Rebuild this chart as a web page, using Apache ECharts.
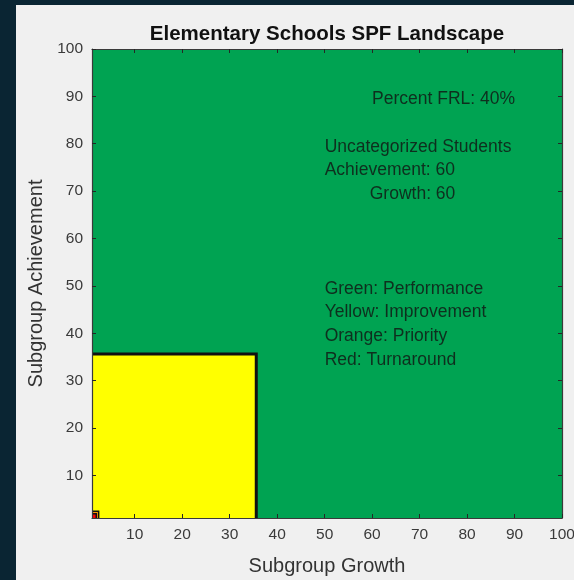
<!DOCTYPE html>
<html>
<head>
<meta charset="utf-8">
<script src="https://cdn.jsdelivr.net/npm/echarts@6/dist/echarts.min.js"></script>
<style>
  html, body { margin: 0; padding: 0; background: #0a2533; }
  #landscape { width: 574px; height: 580px; }
</style>
</head>
<body>
<div id="landscape"></div>
<script>
// region corners: each region fills from (1,1) up to [growth, achievement]
const regionNames = ["Performance", "Improvement", "Priority", "Turnaround"];
const regionGrowth = [100, 35.6, 2.4, 1.9];
const regionAchievement = [100, 35.6, 2.4, 1.9];
const regionColors = ["#00a352", "#ffff00", "#ff9900", "#ff0000"];

const tickValues = [10, 20, 30, 40, 50, 60, 70, 80, 90, 100];

// annotation text, anchored at its left-middle point
const noteText = [
  "Percent FRL: 40%",
  "Uncategorized Students",
  "Achievement: 60",
  "Growth: 60",
  "Green: Performance",
  "Yellow: Improvement",
  "Orange: Priority",
  "Red: Turnaround",
];
const noteX = [60, 50, 50, 59.5, 50, 50, 50, 50];
const noteY = [90, 80, 75, 70, 50, 45, 40, 35];

const FONT = "Liberation Sans, Arial, Helvetica, sans-serif";

const chart = echarts.init(document.getElementById("landscape"));

const axisBase = (extra) => {
  return Object.assign(
    {
      type: "value",
      min: 1,
      max: 100,
      zlevel: 1,
      z: 10,
      splitLine: { show: false },
      axisLine: { show: true, onZero: false, lineStyle: { color: "#3a3a3a", width: 1.2 } },
      axisTick: {
        show: true,
        inside: true,
        length: 4,
        customValues: tickValues,
        lineStyle: { color: "#262626" },
      },
      axisLabel: {
        show: true,
        customValues: tickValues,
        color: "#3a3a3a",
        fontFamily: FONT,
        fontSize: 15.5,
        margin: 9,
      },
    },
    extra
  );
};

const option = {
  backgroundColor: "#f0f0f0",
  animation: false,
  graphic: [
    { type: "rect", shape: { x: 0, y: 0, width: 16, height: 580 }, style: { fill: "#0a2533" }, silent: true },
    { type: "rect", shape: { x: 0, y: 0, width: 574, height: 5 }, style: { fill: "#0a2533" }, silent: true },
  ],
  title: {
    text: "Elementary Schools SPF Landscape",
    left: 322,
    textAlign: "center",
    top: 19,
    textStyle: { fontFamily: FONT, fontSize: 20.5, fontWeight: "bold", color: "#111" },
  },
  grid: { left: 92, right: 12, top: 49, bottom: 62, outerBoundsMode: "none" },
  xAxis: [
    axisBase({
      name: "Subgroup Growth",
      nameLocation: "middle",
      nameGap: 38,
      nameTextStyle: { fontFamily: FONT, fontSize: 20, color: "#333" },
    }),
    axisBase({ position: "top", axisLabel: { show: false } }),
  ],
  yAxis: [
    axisBase({
      name: "Subgroup Achievement",
      nameLocation: "middle",
      nameGap: 41,
      nameTextStyle: { fontFamily: FONT, fontSize: 20, color: "#333" },
    }),
    axisBase({ position: "right", axisLabel: { show: false } }),
  ],
  series: [
    {
      type: "custom",
      name: "regions",
      z: 2,
      data: regionNames.map((n, i) => [regionGrowth[i], regionAchievement[i], i]),
      renderItem: (params, api) => {
        const i = api.value(2);
        const p0 = api.coord([1, 1]);
        const p1 = api.coord([api.value(0), api.value(1)]);
        const lw = i === 1 ? 3 : 1.5;
        const children = [
          {
            type: "rect",
            shape: { x: p0[0], y: p1[1], width: p1[0] - p0[0], height: p0[1] - p1[1] },
            style: { fill: regionColors[i] },
          },
        ];
        if (i > 0) {
          // black edge only along the top and right sides
          children.push({
            type: "polyline",
            shape: {
              points: [
                [p0[0], p1[1]],
                [p1[0], p1[1]],
                [p1[0], p0[1]],
              ],
            },
            style: { stroke: "#111", lineWidth: lw, fill: null },
          });
        }
        return { type: "group", children };
      },
    },
    {
      type: "scatter",
      name: "notes",
      z: 5,
      symbolSize: 0,
      data: noteText.map((t, i) => ({ value: [noteX[i], noteY[i]], name: t })),
      label: {
        show: true,
        position: "right",
        distance: 0,
        offset: [0, 3],
        formatter: (p) => p.name,
        fontFamily: FONT,
        fontSize: 17.5,
        color: "#111",
      },
    },
  ],
};

chart.setOption(option);
</script>
</body>
</html>
